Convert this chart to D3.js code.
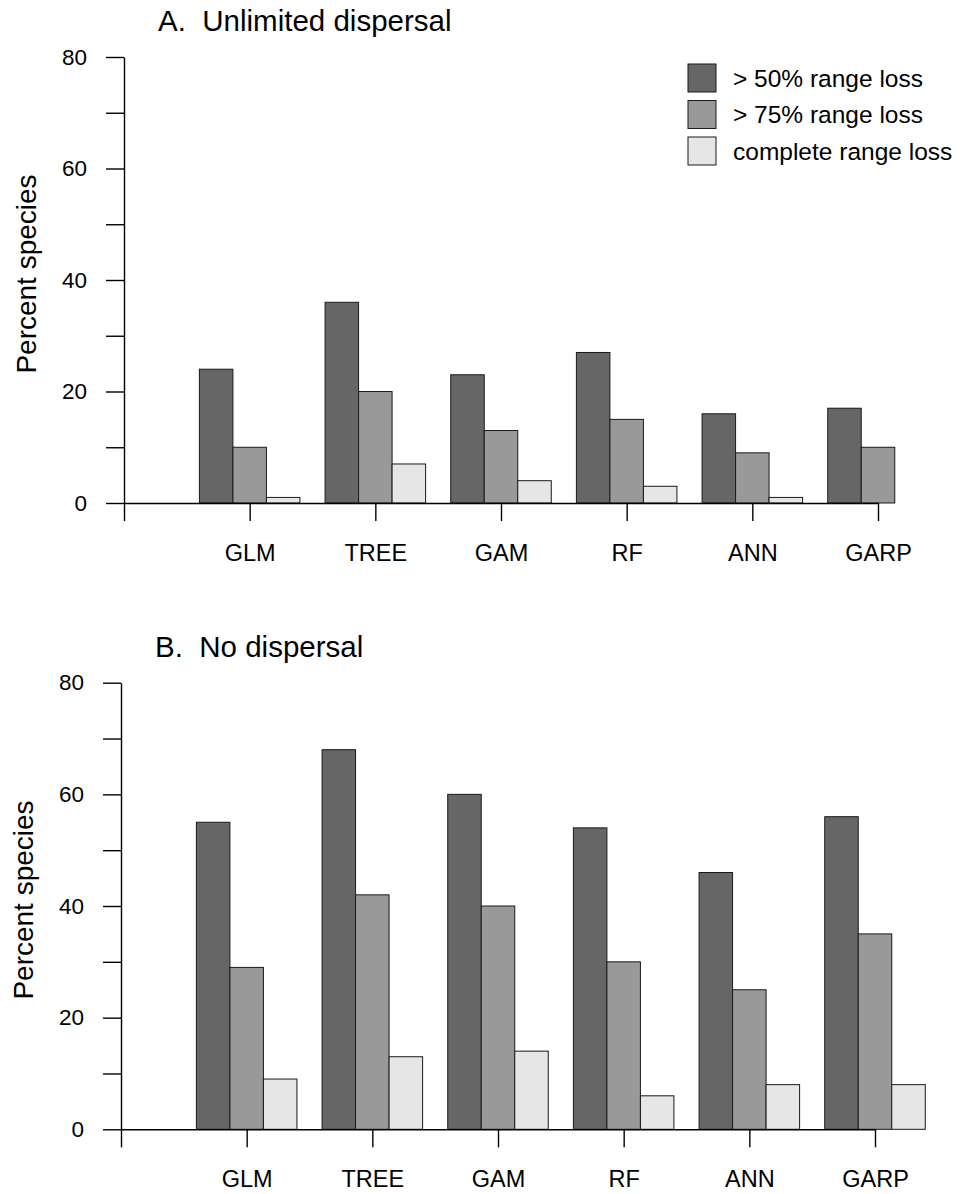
<!DOCTYPE html>
<meta charset="utf-8" />
<html>
<head>
<script src="https://d3js.org/d3.v7.min.js"></script>
<style>
  body { margin: 0; background: #fff; }
  text { font-family: "Liberation Sans", Arial, Helvetica, sans-serif; fill: #000; }
</style>
</head>
<body>
<script>
// data
var models = ['GLM', 'TREE', 'GAM', 'RF', 'ANN', 'GARP'];
var seriesNames = ['> 50% range loss', '> 75% range loss', 'complete range loss'];
var seriesColors = ['#666666', '#999999', '#e6e6e6'];
var yTicks = [0, 10, 20, 30, 40, 50, 60, 70, 80];

var unlimited50 = [24, 36, 23, 27, 16, 17];
var unlimited75 = [10, 20, 13, 15, 9, 10];
var unlimitedAll = [1, 7, 4, 3, 1, 0];

var none50 = [55, 68, 60, 54, 46, 56];
var none75 = [29, 42, 40, 30, 25, 35];
var noneAll = [9, 13, 14, 6, 8, 8];

var svg = d3.select('body').append('svg')
    .attr('width', 961)
    .attr('height', 1194);

function panel(title, values, left, top, bottom, showLegend) {
  var x = d3.scaleLinear().domain([0, 6]).range([left, left + 754]);
  var y = d3.scaleLinear().domain([0, 80]).range([bottom, top]);
  var step = x(1) - x(0);
  var sub = d3.scaleBand().domain([0, 1, 2]).range([-0.4 * step, 0.4 * step]);

  var g = svg.append('g');

  g.append('text')
      .attr('x', left + 34)
      .attr('y', top - 26)
      .style('font-size', '29.5px')
      .attr('xml:space', 'preserve')
      .text(title);

  // bars
  values.forEach(function(vals, s) {
    g.append('g').selectAll('rect')
        .data(vals)
        .enter()
        .append('rect')
        .attr('x', function(d, i) { return x(i + 1) + sub(s); })
        .attr('y', function(d) { return y(d); })
        .attr('width', sub.bandwidth())
        .attr('height', function(d) { return y(0) - y(d); })
        .attr('fill', seriesColors[s])
        .attr('stroke', '#1a1a1a')
        .attr('stroke-width', 1);
  });

  var yAxis = g.append('g')
      .attr('transform', 'translate(' + left + ',0)')
      .call(d3.axisLeft(y)
        .tickValues(yTicks)
        .tickFormat(function(d) { return d % 20 === 0 ? d : ''; })
        .tickSize(18)
        .tickSizeOuter(0)
        .tickPadding(19));
  yAxis.selectAll('text').style('font-size', '22.5px');

  var xAxis = g.append('g')
      .attr('transform', 'translate(0,' + bottom + ')')
      .call(d3.axisBottom(x)
        .tickValues([0, 1, 2, 3, 4, 5, 6])
        .tickFormat(function(d) { return d === 0 ? '' : models[d - 1]; })
        .tickSize(18)
        .tickSizeOuter(0)
        .tickPadding(23));
  xAxis.selectAll('text').style('font-size', '23.5px');

  [yAxis, xAxis].forEach(function(a) {
    a.select('.domain').attr('stroke', '#000').attr('stroke-width', 1.4);
    a.selectAll('.tick line').attr('stroke', '#000').attr('stroke-width', 1.4);
  });

  g.append('text')
      .attr('transform', 'translate(' + (left - 88) + ',' + ((top + bottom) / 2 - 6) + ') rotate(-90)')
      .attr('text-anchor', 'middle')
      .style('font-size', '28px')
      .text('Percent species');

  if (showLegend) {
    var legend = g.append('g')
        .attr('transform', 'translate(688,64)');
    legend.selectAll('rect')
        .data(seriesNames)
        .enter()
        .append('rect')
        .attr('x', 0)
        .attr('y', function(d, i) { return i * 36.5; })
        .attr('width', 28)
        .attr('height', 28)
        .attr('fill', function(d, i) { return seriesColors[i]; })
        .attr('stroke', '#1a1a1a')
        .attr('stroke-width', 1);
    legend.selectAll('text')
        .data(seriesNames)
        .enter()
        .append('text')
        .attr('x', 45)
        .attr('y', function(d, i) { return i * 36.5 + 14; })
        .attr('dy', '0.35em')
        .style('font-size', '24.5px')
        .text(function(d) { return d; });
  }
}

panel('A.  Unlimited dispersal', [unlimited50, unlimited75, unlimitedAll], 124, 57, 503, true);
panel('B.  No dispersal', [none50, none75, noneAll], 121, 682.7, 1129.3, false);
</script>
</body>
</html>
